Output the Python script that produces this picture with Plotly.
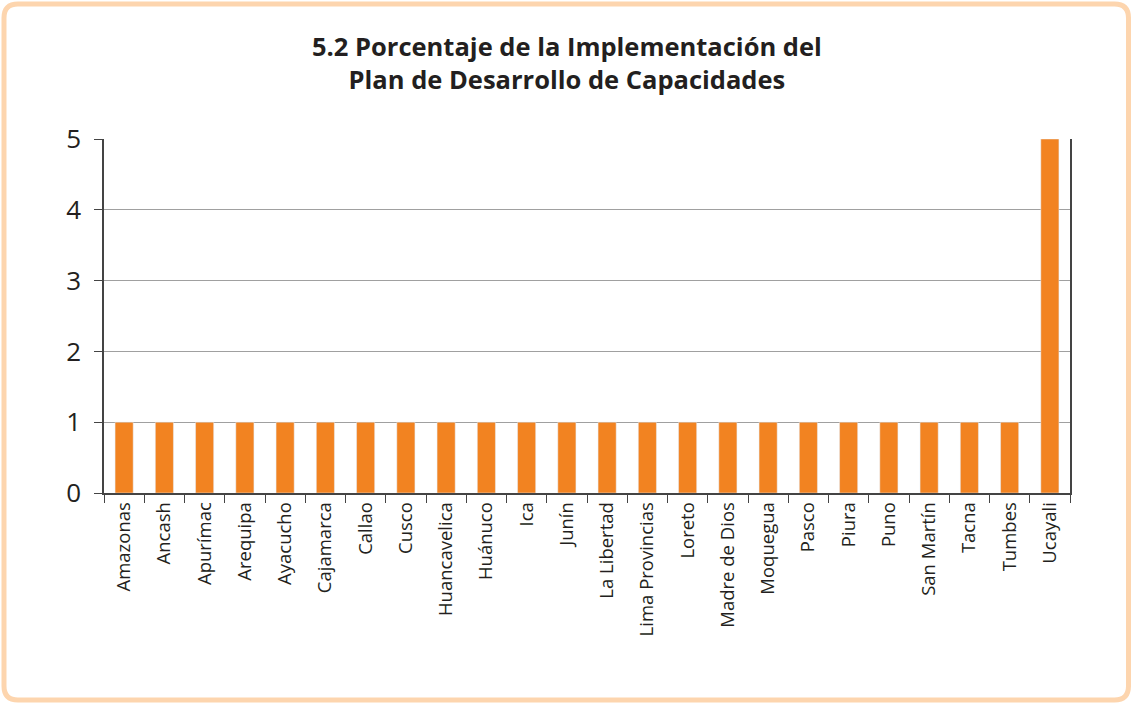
import plotly.graph_objects as go

# regiones y valores
regiones = ['Amazonas', 'Ancash', 'Apurímac', 'Arequipa', 'Ayacucho', 'Cajamarca',
            'Callao', 'Cusco', 'Huancavelica', 'Huánuco', 'Ica', 'Junín',
            'La Libertad', 'Lima Provincias', 'Loreto', 'Madre de Dios', 'Moquegua',
            'Pasco', 'Piura', 'Puno', 'San Martín', 'Tacna', 'Tumbes', 'Ucayali']
valores = [1, 1, 1, 1, 1, 1, 1, 1, 1, 1, 1, 1, 1, 1, 1, 1, 1, 1, 1, 1, 1, 1, 1, 5]
y_ticks = [0, 1, 2, 3, 4, 5]

titulo = '5.2 Porcentaje de la Implementación del<br>Plan de Desarrollo de Capacidades'

W, H = 1131, 704
L, R, T, B = 104, 1070, 139, 493


def px_to_paper(x, y):
    return (x - L) / (R - L), (B - y) / (B - T)


def rounded_rect(x0, y0, x1, y1, r):
    def p(x, y):
        px, py = px_to_paper(x, y)
        return f"{px:.5f},{py:.5f}"
    path = f"M {p(x0 + r, y0)} L {p(x1 - r, y0)} Q {p(x1, y0)} {p(x1, y0 + r)} "
    path += f"L {p(x1, y1 - r)} Q {p(x1, y1)} {p(x1 - r, y1)} "
    path += f"L {p(x0 + r, y1)} Q {p(x0, y1)} {p(x0, y1 - r)} "
    path += f"L {p(x0, y0 + r)} Q {p(x0, y0)} {p(x0 + r, y0)} Z"
    return path


fig = go.Figure()

fig.add_trace(go.Bar(
    x=regiones,
    y=valores,
    marker_color='#F28321',
    width=0.45,
))

# marco naranja redondeado
fig.add_shape(type='path', xref='paper', yref='paper',
              path=rounded_rect(4, 4, 1128.5, 700, 14),
              line=dict(color='#FDD5AE', width=5), layer='below')

# titulo como anotacion para controlar la posicion
tx, ty = px_to_paper(567, 27)
fig.add_annotation(
    text=titulo, x=tx, y=ty, xref='paper', yref='paper',
    xanchor='center', yanchor='top', showarrow=False, align='center',
    font=dict(family='Open Sans', size=25.5, color='#231F20', weight='bold'),
)

fig.update_layout(
    width=W, height=H,
    margin=dict(l=L, r=W - R, t=T, b=H - B),
    paper_bgcolor='white',
    plot_bgcolor='white',
    showlegend=False,
    font=dict(family='Open Sans', color='#231F20'),
    bargap=0.55,
)

fig.update_xaxes(
    type='category',
    tickangle=-90,
    tickfont=dict(size=18.5),
    ticks='outside', ticklen=8, tickcolor='#444',
    tickson='boundaries',
    showline=True, linecolor='#444', linewidth=1.5,
    showgrid=False,
)

fig.update_yaxes(
    range=[0, 5],
    tickvals=y_ticks,
    tickfont=dict(size=26),
    ticks='outside', ticklen=8, tickcolor='#444',
    ticklabelstandoff=8,
    showline=True, linecolor='#444', linewidth=1.5, mirror=True,
    showgrid=True, gridcolor='#A0A0A0', gridwidth=1,
    zeroline=False,
)

fig.write_html("out.html", config={'displayModeBar': False},
               post_script="document.body.style.margin='0';")
